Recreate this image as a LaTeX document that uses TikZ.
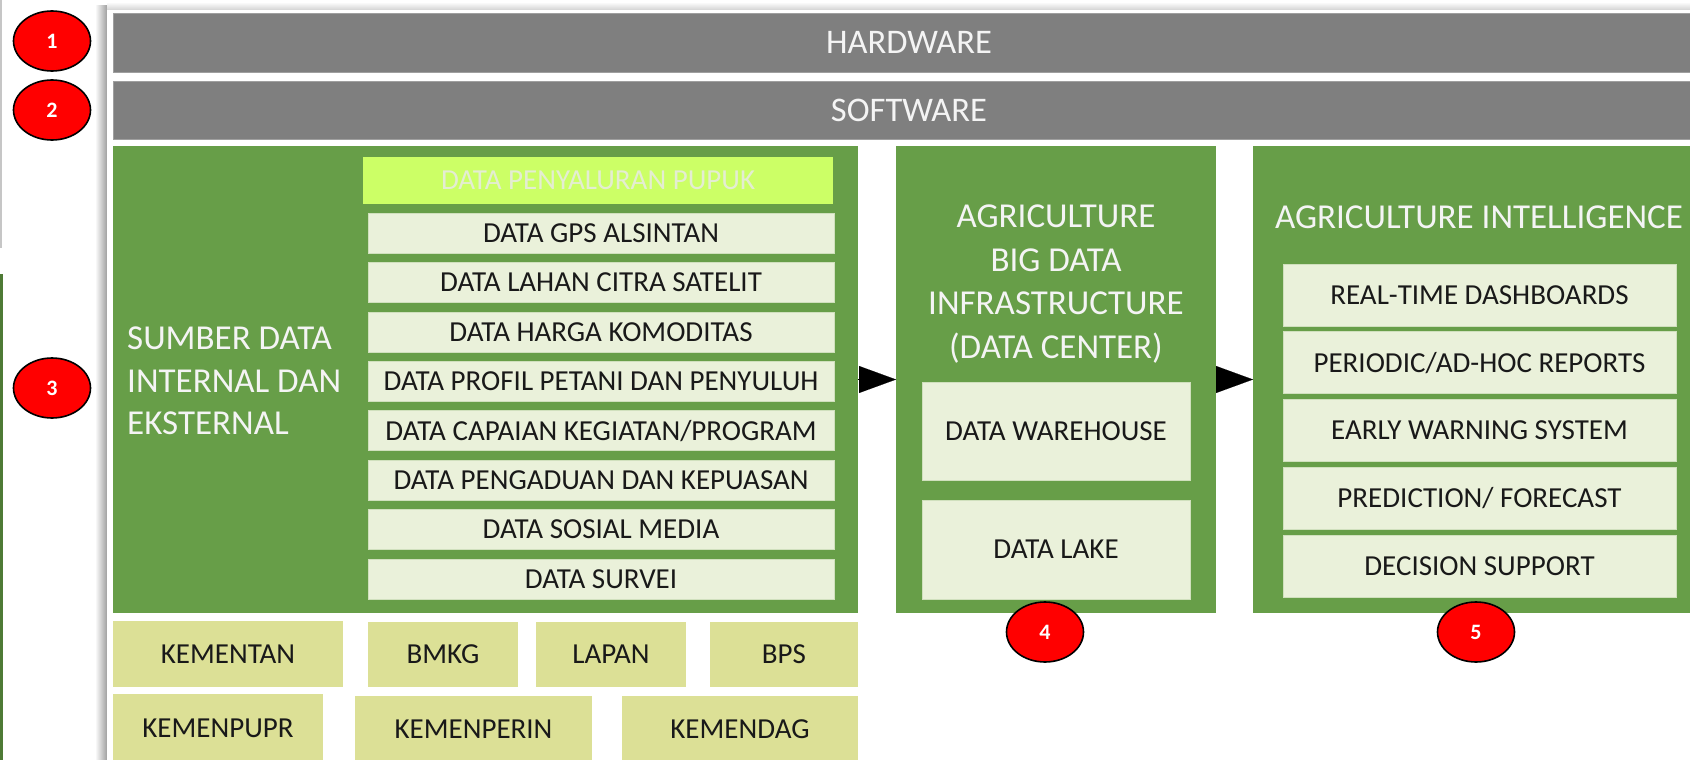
\documentclass[tikz,border=0pt]{standalone}
\usepackage{fontspec}
\setmainfont{Carlito}
\usetikzlibrary{arrows.meta,shapes.geometric}
\definecolor{panelgreen}{HTML}{679E48}
\definecolor{itemfill}{HTML}{EAF1DA}
\definecolor{limefill}{HTML}{CCFF66}
\definecolor{limetext}{HTML}{E4EDD2}
\definecolor{orgfill}{HTML}{DCE096}
\definecolor{bargrey}{HTML}{7F7F7F}
\definecolor{lighttext}{HTML}{F4F4F4}
\definecolor{edgegreen}{HTML}{4E7A35}
\tikzset{
  box/.style={anchor=north west, inner sep=0pt, outer sep=0pt},
  bar/.style={box, fill=bargrey, draw=gray!75, line width=0.8pt, text=lighttext, font=\fontsize{34.5}{40}\selectfont},
  panel/.style={box, fill=panelgreen},
  item/.style={box, fill=itemfill, draw=itemfill!80!panelgreen, line width=0.6pt, font=\fontsize{29}{34}\selectfont, text=black!90},
  org/.style={box, fill=orgfill, font=\fontsize{29}{34}\selectfont, text=black!90},
  heading/.style={text=lighttext, font=\fontsize{35}{42.5}\selectfont, inner sep=0pt},
  badge/.style={ellipse, fill=red, draw=black, line width=1.6pt, minimum width=77pt, minimum height=60pt, inner sep=0pt, text=white, font=\fontsize{22}{26}\selectfont\bfseries},
  flow/.style={-{Triangle[length=37pt,width=27pt]}, line width=0.1pt, black}
}
\begin{document}
\begin{tikzpicture}[x=1pt,y=-1pt]
\useasboundingbox (0,0) rectangle (1690,760);
% slide edge remnants at far left
\fill[gray!45] (0,0) rectangle (2,248);
\fill[edgegreen] (0,274) rectangle (3,760);
% card with shadow
\shade[left color=white, right color=gray!75] (95,6) rectangle (107,770);
\shade[top color=white, bottom color=gray!35] (107,2) rectangle (1700,10);
\fill[white] (107,10) rectangle (1700,770);
% bars
\node[bar, minimum width=1592pt, minimum height=59pt] (hw) at (113,13) {HARDWARE};
\node[bar, minimum width=1592pt, minimum height=58pt] (sw) at (113,81) {SOFTWARE};
% panels
\node[panel, minimum width=745pt, minimum height=467pt] (src) at (113,146) {};
\node[panel, minimum width=320pt, minimum height=467pt] (bd) at (896,146) {};
\node[panel, minimum width=452pt, minimum height=467pt] (ai) at (1253,146) {};
% left panel heading
\node[heading, align=left, anchor=west] (srcT) at (127,381) {SUMBER DATA\\INTERNAL DAN\\EKSTERNAL};
% data sources
\node[box, fill=limefill, minimum width=470pt, minimum height=47pt, text=limetext, font=\fontsize{29}{34}\selectfont] (d0) at (363,157) {DATA PENYALURAN PUPUK};
\node[item, minimum width=466pt, minimum height=40pt] (d1) at (368,213) {DATA GPS ALSINTAN};
\node[item, minimum width=466pt, minimum height=40pt] (d2) at (368,262.4) {DATA LAHAN CITRA SATELIT};
\node[item, minimum width=466pt, minimum height=40pt] (d3) at (368,311.8) {DATA HARGA KOMODITAS};
\node[item, minimum width=466pt, minimum height=40pt] (d4) at (368,361.2) {DATA PROFIL PETANI DAN PENYULUH};
\node[item, minimum width=466pt, minimum height=40pt] (d5) at (368,410.6) {DATA CAPAIAN KEGIATAN/PROGRAM};
\node[item, minimum width=466pt, minimum height=40pt] (d6) at (368,460) {DATA PENGADUAN DAN KEPUASAN};
\node[item, minimum width=466pt, minimum height=40pt] (d7) at (368,509.4) {DATA SOSIAL MEDIA};
\node[item, minimum width=466pt, minimum height=40pt] (d8) at (368,558.8) {DATA SURVEI};
% middle panel
\node[heading, align=center, font=\fontsize{35}{43.5}\selectfont] (bdT) at (1056,284) {AGRICULTURE\\BIG DATA\\INFRASTRUCTURE\\(DATA CENTER)};
\node[item, minimum width=268pt, minimum height=98pt] (dw) at (922,382) {DATA WAREHOUSE};
\node[item, minimum width=268pt, minimum height=99pt] (dl) at (922,500) {DATA LAKE};
% right panel
\node[heading] (aiT) at (1479,217) {AGRICULTURE INTELLIGENCE};
\node[item, minimum width=393pt, minimum height=62pt] (r1) at (1283,264) {REAL-TIME DASHBOARDS};
\node[item, minimum width=393pt, minimum height=62pt] (r2) at (1283,331.75) {PERIODIC/AD-HOC REPORTS};
\node[item, minimum width=393pt, minimum height=62pt] (r3) at (1283,399.5) {EARLY WARNING SYSTEM};
\node[item, minimum width=393pt, minimum height=62pt] (r4) at (1283,467.25) {PREDICTION/ FORECAST};
\node[item, minimum width=393pt, minimum height=62pt] (r5) at (1283,535) {DECISION SUPPORT};
% organisations
\node[org, minimum width=230pt, minimum height=66pt] (o1) at (113,621) {KEMENTAN};
\node[org, minimum width=150pt, minimum height=65pt] (o2) at (368,622) {BMKG};
\node[org, minimum width=150pt, minimum height=65pt] (o3) at (536,622) {LAPAN};
\node[org, minimum width=148pt, minimum height=65pt] (o4) at (710,622) {BPS};
\node[org, minimum width=210pt, minimum height=68pt] (o5) at (113,694) {KEMENPUPR};
\node[org, minimum width=237pt, minimum height=66pt] (o6) at (355,696) {KEMENPERIN};
\node[org, minimum width=236pt, minimum height=66pt] (o7) at (622,696) {KEMENDAG};
% flow arrows
\draw[flow] (src.east) -- (bd.west);
\draw[flow] (bd.east) -- (ai.west);
% number badges
\node[badge] (n1) at (52,41) {1};
\node[badge] (n2) at (52,110) {2};
\node[badge] (n3) at (52,388) {3};
\node[badge] (n4) at (1045,632) {4};
\node[badge] (n5) at (1476,632) {5};
\end{tikzpicture}
\end{document}
